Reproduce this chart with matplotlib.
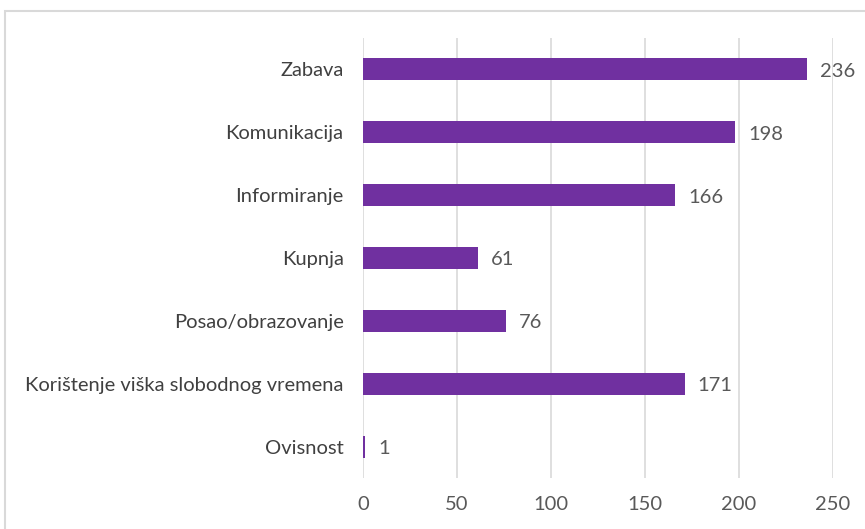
import matplotlib.pyplot as plt
from matplotlib.patches import Rectangle

categories = ["Zabava", "Komunikacija", "Informiranje", "Kupnja",
              "Posao/obrazovanje", "Korištenje viška slobodnog vremena", "Ovisnost"]
values = [236, 198, 166, 61, 76, 171, 1]
xticks = [0, 50, 100, 150, 200, 250]

plt.rcParams['font.family'] = ['Lato', 'DejaVu Sans']

fig = plt.figure(figsize=(8.65, 5.29), dpi=100)
ax = fig.add_axes([0.4197, 0.0964, 0.5434, 0.8318])

pos = list(range(len(categories)))[::-1]
ax.barh(pos, values, height=0.35, color="#7030A0", zorder=3)
for p, v in zip(pos, values):
    ax.text(v + 7, p - 0.03, str(v), va="center", ha="left", fontsize=14.5, color="#595959")

ax.set_xlim(0, 250)
ax.set_ylim(-0.5, len(categories) - 0.5)
ax.set_yticks(pos)
ax.set_yticklabels(categories, fontsize=14.5, color="#404040")
ax.set_xticks(xticks)
ax.set_xticklabels([str(t) for t in xticks], fontsize=14.5, color="#595959")
ax.tick_params(axis="both", length=0)
ax.tick_params(axis="y", pad=14)
ax.tick_params(axis="x", pad=13)
ax.grid(axis="x", color="#D9D9D9", linewidth=1.2, zorder=0)
for s in ax.spines.values():
    s.set_visible(False)

# chart frame (continues beyond right and bottom edge)
fig.patches.append(Rectangle((5 / 865, -0.1), 1.2, 1 - 11 / 529 + 0.1,
                             transform=fig.transFigure, fill=False,
                             edgecolor="#D9D9D9", linewidth=1.5))

fig.savefig("out.png")
